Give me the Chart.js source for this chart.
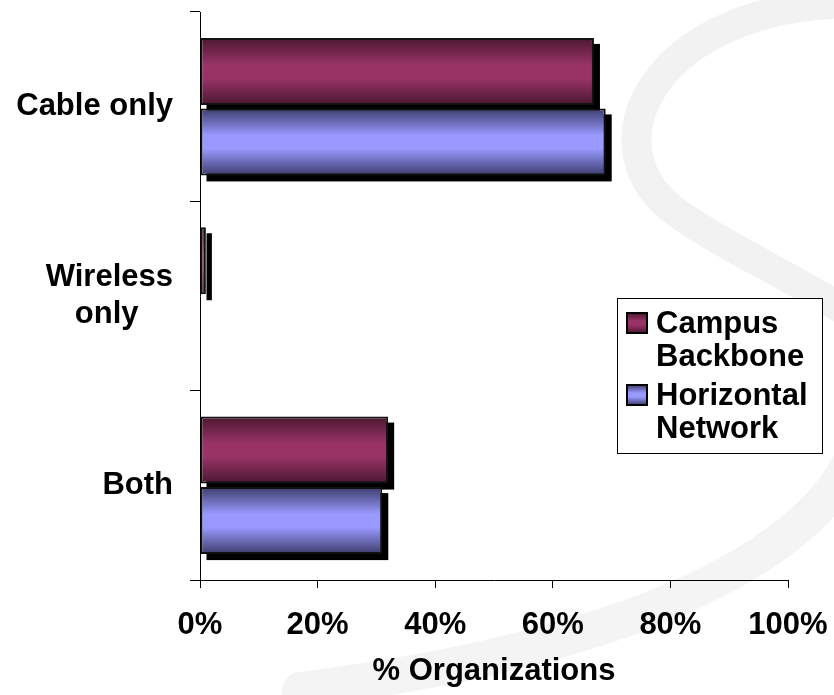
<!DOCTYPE html>
<html>
<head>
<meta charset="utf-8">
<script src="https://cdn.jsdelivr.net/npm/chart.js@4"></script>
<style>
  html, body { margin: 0; padding: 0; background: #fff; }
  #wrap { width: 834px; height: 695px; }
</style>
</head>
<body>
<div id="wrap"><canvas id="chart" width="834" height="695"></canvas></div>
<script>
// Данные графика
const categories = ['Cable only', ['Wireless', 'only'], 'Both'];
const seriesNames = ['Campus Backbone', 'Horizontal Network'];
const campusBackbone = [67, 1, 32];
const horizontalNetwork = [69, 0, 31];
const xTicks = [0, 20, 40, 60, 80, 100];
const xTitle = '% Organizations';

const FONT = '"Liberation Sans", Arial, sans-serif';
const FONT_SIZE = 31;
const colors = [
    { dark: '#4a1730', light: '#993366' },
    { dark: '#3c3c6c', light: '#9999ff' }
];
const CAT_PCT = 0.745;
const BAR_PCT = 0.95;

function fillGradient(ctx, top, bottom, c) {
    const g = ctx.createLinearGradient(0, top, 0, bottom);
    g.addColorStop(0, c.dark);
    g.addColorStop(0.4, c.light);
    g.addColorStop(0.6, c.light);
    g.addColorStop(1, c.dark);
    return g;
}

// Градиент для каждого столбца по его положению на шкале
function barGradient(context) {
    const chart = context.chart;
    const c = colors[context.datasetIndex];
    const yScale = chart.scales.y;
    if (!yScale || context.type !== 'data') return c.light;
    const n = chart.data.labels.length;
    const cat = (yScale.bottom - yScale.top) / n;
    const group = cat * CAT_PCT;
    const bar = group / 2 * BAR_PCT;
    const center = yScale.getPixelForValue(context.dataIndex) - group / 2 + group / 2 * (context.datasetIndex + 0.5);
    if (!isFinite(center) || !isFinite(bar) || bar <= 0) return c.light;
    return fillGradient(chart.ctx, center - bar / 2, center + bar / 2, c);
}

// Фон с бледным логотипом
const watermark = {
    id: 'watermark',
    beforeDraw(chart) {
        const ctx = chart.ctx;
        ctx.save();
        ctx.fillStyle = '#fff';
        ctx.fillRect(0, 0, chart.width, chart.height);
        ctx.strokeStyle = '#f1f2f1';
        ctx.lineCap = 'round';
        ctx.lineWidth = 30;
        ctx.beginPath();
        ctx.moveTo(830, 4);
        ctx.bezierCurveTo(650, 15, 585, 150, 680, 215);
        ctx.bezierCurveTo(730, 250, 790, 275, 860, 320);
        ctx.stroke();
        ctx.strokeStyle = '#f3f4f3';
        ctx.lineWidth = 36;
        ctx.beginPath();
        ctx.moveTo(860, 440);
        ctx.bezierCurveTo(820, 560, 620, 650, 300, 690);
        ctx.stroke();
        ctx.restore();
    }
};

// Тени под столбцами
const barShadow = {
    id: 'barShadow',
    beforeDatasetsDraw(chart) {
        const ctx = chart.ctx;
        ctx.save();
        ctx.fillStyle = '#000';
        chart.data.datasets.forEach((ds, di) => {
            chart.getDatasetMeta(di).data.forEach((el, i) => {
                if (!ds.data[i]) return;
                const left = Math.min(el.base, el.x);
                const w = Math.abs(el.x - el.base);
                ctx.fillRect(left + 6, el.y - el.height / 2 + 6, w, el.height);
            });
        });
        ctx.restore();
    }
};

// Легенда в рамке справа
const boxLegend = {
    id: 'boxLegend',
    afterDraw(chart) {
        const ctx = chart.ctx;
        ctx.save();
        ctx.fillStyle = '#fff';
        ctx.fillRect(617, 298, 205, 155);
        ctx.strokeStyle = '#000';
        ctx.lineWidth = 1;
        ctx.strokeRect(617.5, 298.5, 205, 155);
        ctx.font = 'bold ' + FONT_SIZE + 'px ' + FONT;
        ctx.textBaseline = 'alphabetic';
        ctx.textAlign = 'left';
        chart.data.datasets.forEach((ds, di) => {
            const base = 333 + di * 72;
            ctx.fillStyle = fillGradient(ctx, base - 20, base, colors[di]);
            ctx.fillRect(627, base - 20, 20, 20);
            ctx.strokeStyle = '#000';
            ctx.lineWidth = 2;
            ctx.strokeRect(627, base - 20, 20, 20);
            ctx.fillStyle = '#000';
            ds.label.split(' ').forEach((word, k) => {
                ctx.fillText(word, 656, base + k * 33);
            });
        });
        ctx.restore();
    }
};

const ctx = document.getElementById('chart').getContext('2d');
const measure = document.createElement('canvas').getContext('2d');
measure.font = 'bold ' + FONT_SIZE + 'px ' + FONT;

const barStyle = {
    backgroundColor: barGradient,
    borderColor: '#111',
    borderWidth: (c) => (c.raw ? 2 : 0),
    borderSkipped: false
};

new Chart(ctx, {
    type: 'bar',
    data: {
        labels: categories,
        datasets: [
            Object.assign({ label: seriesNames[0], data: campusBackbone }, barStyle),
            Object.assign({ label: seriesNames[1], data: horizontalNetwork }, barStyle)
        ]
    },
    options: {
        indexAxis: 'y',
        responsive: false,
        animation: false,
        categoryPercentage: CAT_PCT,
        barPercentage: BAR_PCT,
        layout: { padding: { top: 12, right: 46, bottom: 0, left: 0 } },
        scales: {
            x: {
                min: 0,
                max: 100,
                afterBuildTicks: (scale) => { scale.ticks = xTicks.map(v => ({ value: v })); },
                afterFit: (scale) => {
                    scale.height = 115;
                    scale.paddingLeft = 0;
                    scale.paddingRight = 0;
                },
                border: { color: '#000', width: 1 },
                grid: { drawOnChartArea: false, tickLength: 8, color: '#000' },
                ticks: {
                    color: '#000',
                    padding: 19,
                    font: { family: FONT, size: FONT_SIZE, weight: 'bold' },
                    callback: (v) => v + '%'
                },
                title: {
                    display: true,
                    text: xTitle,
                    color: '#000',
                    font: { family: FONT, size: FONT_SIZE, weight: 'bold' },
                    padding: { top: 0, bottom: 5 }
                }
            },
            y: {
                afterFit: (scale) => {
                    scale.width = 200;
                    scale.paddingTop = 0;
                    scale.paddingBottom = 0;
                },
                border: { color: '#000', width: 1 },
                grid: { drawOnChartArea: false, tickLength: 10, color: '#000' },
                ticks: {
                    color: '#000',
                    padding: 17,
                    font: { family: FONT, size: FONT_SIZE, weight: 'bold', lineHeight: 1.2 },
                    callback: function (v, i) {
                        const lab = categories[i];
                        if (!Array.isArray(lab)) return lab;
                        // строки по центру, блок выровнен вправо
                        const widest = Math.max(...lab.map(s => measure.measureText(s).width));
                        const sp = measure.measureText(' ').width;
                        return lab.map(s => s + ' '.repeat(Math.round((widest - measure.measureText(s).width) / 2 / sp)));
                    }
                }
            }
        },
        plugins: {
            legend: { display: false },
            tooltip: { enabled: false }
        }
    },
    plugins: [watermark, barShadow, boxLegend]
});
</script>
</body>
</html>
